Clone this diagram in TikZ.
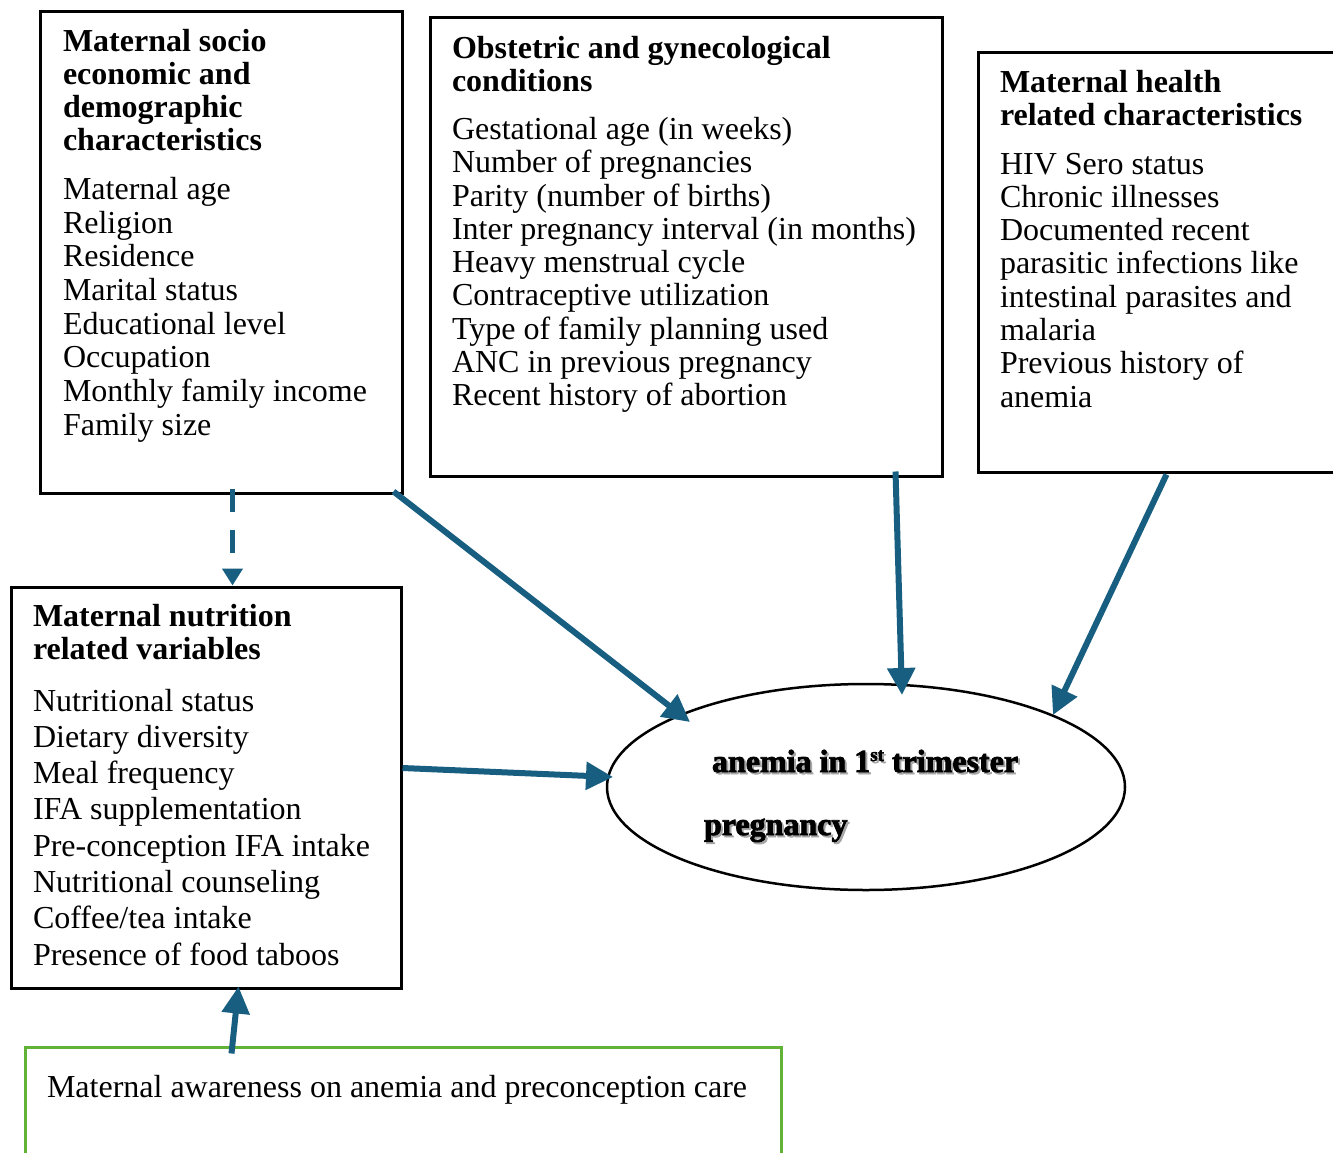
\documentclass[tikz,border=0pt]{standalone}
\usepackage{fontspec}
\setmainfont{Liberation Serif}
\newfontfamily\heavy{Liberation Serif}[BoldFeatures={FakeBold=2.5}]
\usetikzlibrary{arrows.meta,calc,shapes.geometric}
\definecolor{arrowblue}{RGB}{23,94,128}
\definecolor{boxgreen}{RGB}{98,178,56}
\newcommand{\textlines}[2]{\fontsize{32}{#1}\selectfont\begin{tabular}[t]{@{}l@{}}#2\end{tabular}}
\newcommand{\shadowed}[1]{\rlap{\hspace{2pt}\raisebox{-2pt}{\color{black!35}#1}}#1}
\newcommand{\firsttri}{anemia in 1\raisebox{11pt}{\fontsize{19}{19}\selectfont st} trimester}
\begin{document}
\begin{tikzpicture}[x=1pt,y=-1pt,
  box/.style={draw=black, line width=3pt, rectangle, inner sep=0pt},
  txt/.style={anchor=base west, inner sep=0pt, outer sep=0pt},
  conn/.style={draw=arrowblue, line width=6pt, -{Triangle[length=27pt,width=27pt]}},
  dconn/.style={draw=arrowblue, line width=5pt, dash pattern=on 23pt off 18pt, -{Triangle[length=17pt,width=20pt]}},
  heavytxt/.style={txt, font=\fontsize{32}{33}\selectfont\heavy\bfseries},
]
\useasboundingbox (0,0) rectangle (1333,1153);
\clip (0,0) rectangle (1333,1153);

% boxes
\node[box, minimum width=362pt, minimum height=481pt] (b1) at (221,252.5) {};
\node[box, minimum width=512pt, minimum height=458pt] (b2) at (686,247) {};
\node[box, minimum width=380pt, minimum height=419pt] (b3) at (1168,262.5) {};
\node[box, minimum width=390pt, minimum height=401pt] (b4) at (206,787.5) {};
\node[draw=boxgreen, line width=3pt, rectangle, inner sep=0pt, minimum width=756pt, minimum height=140pt] (gr) at (403,1117) {};
\node[draw=black, line width=2.5pt, ellipse, inner sep=0pt, minimum width=518pt, minimum height=206pt] (ell) at (866,787) {};

% box 1 text
\node[txt] (b1h) at (63,52) {\bfseries\textlines{33}{Maternal socio\\economic and\\demographic\\characteristics}};
\node[txt] (b1b) at (63,199.5) {\textlines{33.7}{Maternal age\\Religion\\Residence\\Marital status\\Educational level\\Occupation\\Monthly family income\\Family size}};

% box 2 text
\node[txt] (b2h) at (452,58.5) {\bfseries\textlines{33}{Obstetric and gynecological\\conditions}};
\node[txt] (b2b) at (452,139.5) {\textlines{33.25}{Gestational age (in weeks)\\Number of pregnancies\\Parity (number of births)\\Inter pregnancy interval (in months)\\Heavy menstrual cycle\\Contraceptive utilization\\Type of family planning used\\ANC in previous pregnancy\\Recent history of abortion}};

% box 3 text
\node[txt] (b3h) at (1000,92.5) {\bfseries\textlines{33}{Maternal health\\related characteristics}};
\node[txt] (b3b) at (1000,174) {\textlines{33.3}{HIV Sero status\\Chronic illnesses\\Documented recent\\parasitic infections like\\intestinal parasites and\\malaria\\Previous history of\\anemia}};

% box 4 text
\node[txt] (b4h) at (33,626) {\bfseries\textlines{33}{Maternal nutrition\\related variables}};
\node[txt] (b4b) at (33,711) {\textlines{36.3}{Nutritional status\\Dietary diversity\\Meal frequency\\IFA supplementation\\Pre-conception IFA intake\\Nutritional counseling\\Coffee/tea intake\\Presence of food taboos}};

% green box text
\node[txt] (grt) at (47,1097) {\fontsize{32}{33}\selectfont Maternal awareness on anemia and preconception care};

% ellipse text
\node[heavytxt] (e1) at (712,772) {\shadowed{\firsttri}};
\node[heavytxt] (e2) at (704,835) {\shadowed{pregnancy}};

% connectors
\draw[dconn] ($(b1.south west)+(194,-6)$) -- ($(b4.north west)+(223,0)$);
\draw[conn] ($(b1.south east)+(-10,-3)$) -- ($(ell.center)+(-176,-65)$);
\draw[conn] ($(b2.south east)+(-48,-6)$) -- ($(ell.center)+(36,-92)$);
\draw[conn] ($(b3.south west)+(190,1)$) -- ($(ell.center)+(187,-72)$);
\draw[conn] ($(b4.east)+(0,-19.5)$) -- ($(ell.center)+(-253,-10)$);
\draw[conn] ($(gr.north west)+(208,8)$) -- ($(b4.south west)+(229,-3)$);
\end{tikzpicture}
\end{document}
